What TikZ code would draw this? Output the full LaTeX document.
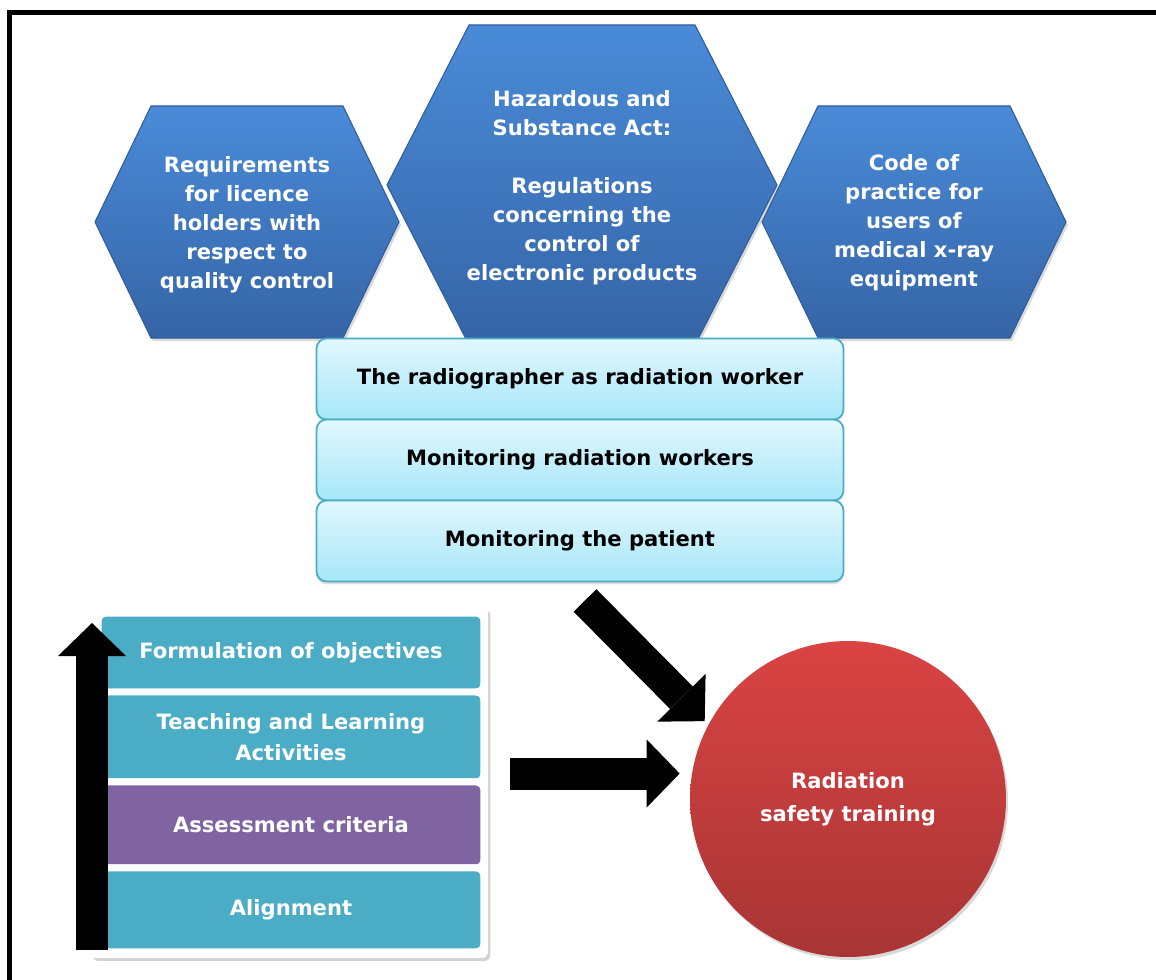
\documentclass[tikz,border=0pt]{standalone}
\usepackage{fontspec}
\setmainfont{DejaVu Sans}
\usetikzlibrary{arrows.meta,positioning,shadows}
\definecolor{hextop}{HTML}{4A8BD8}
\definecolor{hexbot}{HTML}{3564A6}
\definecolor{hexedge}{HTML}{2F5D9C}
\definecolor{boxtop}{HTML}{E2F7FD}
\definecolor{boxbot}{HTML}{A6E7FA}
\definecolor{boxedge}{HTML}{4BACC6}
\definecolor{bandteal}{HTML}{4BACC6}
\definecolor{bandpurple}{HTML}{8064A2}
\definecolor{redtop}{HTML}{DA4343}
\definecolor{redbot}{HTML}{A83535}

\tikzset{
  hexfill/.style={top color=hextop, bottom color=hexbot, draw=hexedge, line width=0.6pt,
    drop shadow={opacity=0.3, shadow xshift=0.04cm, shadow yshift=-0.06cm}},
  hextext/.style={text=white, align=center, font=\fontsize{12}{16.5}\selectfont\bfseries},
  stepbox/.style={draw=boxedge, line width=1pt, rounded corners=0.2cm, top color=boxtop,
    bottom color=boxbot, minimum width=10.54cm, minimum height=1.62cm, outer sep=0pt,
    font=\fontsize{12}{16.5}\selectfont\bfseries,
    drop shadow={opacity=0.25, shadow xshift=0cm, shadow yshift=-0.06cm}},
  panel/.style={fill=white, rounded corners=0.12cm, minimum width=7.96cm, minimum height=7.02cm,
    drop shadow={opacity=0.35, shadow xshift=0.05cm, shadow yshift=-0.06cm}},
  band/.style={fill=bandteal, draw=white, line width=0.14cm, rounded corners=0.16cm,
    minimum width=7.72cm, minimum height=1.58cm, outer sep=0pt, text=white, align=center,
    font=\fontsize{12}{17.6}\selectfont\bfseries},
  target/.style={circle, minimum size=6.32cm, top color=redtop, bottom color=redbot,
    text=white, align=center, font=\fontsize{12}{18.7}\selectfont\bfseries,
    drop shadow={opacity=0.3, shadow xshift=0.04cm, shadow yshift=-0.06cm}},
  blockarrow/.style={line width=0.64cm, -{Triangle[length=0.66cm, width=1.36cm, line width=0pt]}}
}

% hexagon: centre x, centre y, half width, half top edge, half height
\newcommand{\hexa}[5]{%
  \path[hexfill] (#1-#3,#2) -- (#1-#4,#2-#5) -- (#1+#4,#2-#5) -- (#1+#3,#2)
    -- (#1+#4,#2+#5) -- (#1-#4,#2+#5) -- cycle;}

\begin{document}
\begin{tikzpicture}[x=0.02cm, y=-0.02cm]
  \useasboundingbox (0,0) rectangle (1156,980);
  % frame
  \draw[line width=0.1cm] (9.5,980) -- (9.5,12.5) -- (1156,12.5);

  % Hexagons
  \hexa{582}{185}{195}{113}{160}
  \hexa{247}{222}{152}{96}{116}
  \hexa{914}{222}{152}{96}{116}
  \node[hextext] (haz) at (582,188) {Hazardous and\\Substance Act:\\[16.5pt]Regulations\\concerning the\\control of\\electronic products};
  \node[hextext] (req) at (247,225) {Requirements\\for licence\\holders with\\respect to\\quality control};
  \node[hextext] (code) at (914,223) {Code of\\practice for\\users of\\medical x-ray\\equipment};

  % Boxes
  \node[stepbox] (rad) at (580,379) {The radiographer as radiation worker};
  \node[stepbox, below=0pt of rad] (mon) {Monitoring radiation workers};
  \node[stepbox, below=0pt of mon] (pat) {Monitoring the patient};

  % Stack
  \node[panel] (stack) at (289,782.5) {};
  \node[band] (form) at (291,652.5) {Formulation of objectives};
  \node[band, minimum height=1.8cm, below=0pt of form] (teach) {Teaching and Learning\\Activities};
  \node[band, fill=bandpurple, minimum height=1.72cm, below=0pt of teach] (assess) {Assessment criteria};
  \node[band, minimum height=1.68cm, below=0pt of assess] (align) {Alignment};

  % Target
  \node[target] (rst) at (848,799) {Radiation\\safety training};

  % Arrows
  \coordinate (upfoot) at (92,950);
  \draw[blockarrow, shorten >=0.2cm] (upfoot) -- (upfoot |- form.north);
  \draw[blockarrow, shorten >=0.1cm] (pat.south) ++(5,19) -- (rst.152);
  \draw[blockarrow, shorten >=0.2cm] (stack.east) ++(22,-9) coordinate (htail) -- (htail -| rst.west);
\end{tikzpicture}
\end{document}
